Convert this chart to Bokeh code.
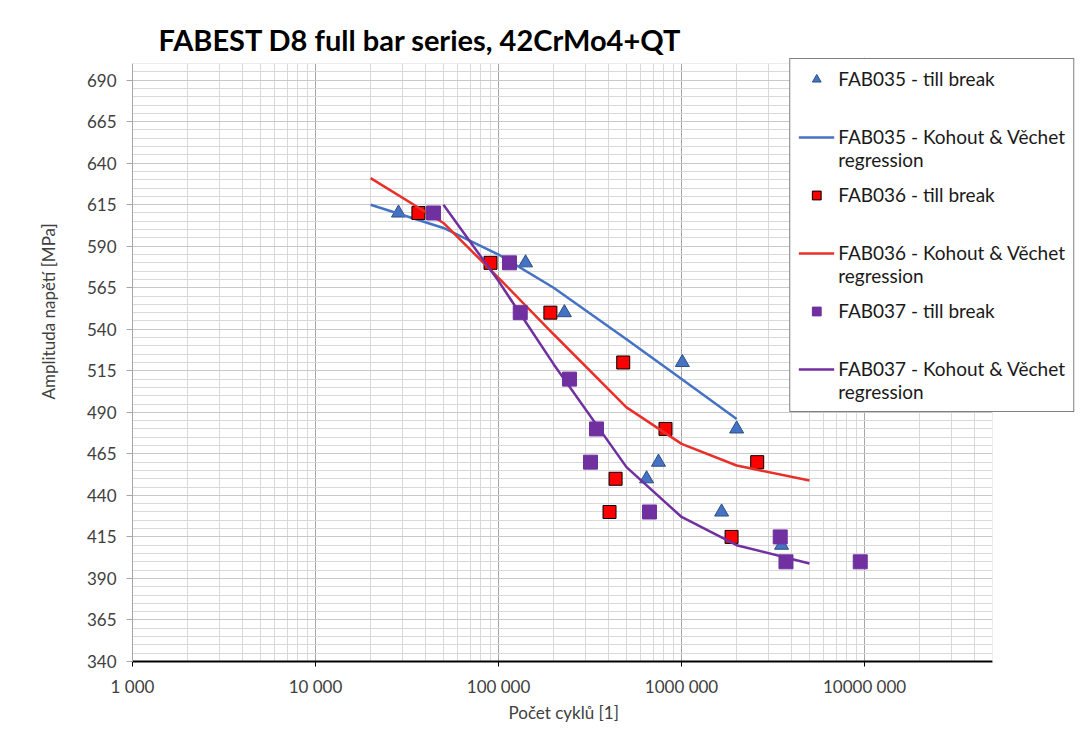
import math
from bokeh.plotting import figure
from bokeh.models import FixedTicker, Legend, LegendItem, Range1d, BoxAnnotation, Title
from bokeh.embed import file_html
from bokeh.resources import INLINE

# ---- data ----
fab035_N = [28400, 140500, 229000, 1010000, 2000000, 748000, 644000, 1655000, 3520000]
fab035_S = [610, 580, 550, 520, 480, 460, 450, 430, 410]

fab036_N = [36500, 90400, 192000, 480000, 817000, 2590000, 436000, 404000, 1876000]
fab036_S = [610, 580, 550, 520, 480, 460, 450, 430, 415]

fab037_N = [44150, 114800, 131400, 244300, 343000, 318000, 668000, 3460000, 3720000, 9470000]
fab037_S = [610, 580, 550, 510, 480, 460, 430, 415, 400, 400]

reg035_N = [2e4, 5e4, 1e5, 2e5, 5e5, 1e6, 2e6]
reg035_S = [615, 601, 585, 565, 534, 510, 486]

reg036_N = [2e4, 5e4, 1e5, 2e5, 5e5, 1e6, 2e6, 5e6]
reg036_S = [631, 604, 571, 537, 493, 471, 458, 449]

reg037_N = [5e4, 1e5, 2e5, 5e5, 1e6, 2e6, 5e6]
reg037_S = [615, 569, 519, 457, 427, 410, 399]

x_tick_values = [1000, 10000, 100000, 1000000, 10000000]
x_tick_labels = ["1 000", "10 000", "100 000", "1000 000", "10000 000"]
y_tick_values = list(range(340, 691, 25))

X_MIN, X_MAX = 1000, 5e7
Y_MIN, Y_MAX = 340, 700

# regression entries get an invisible first line so that the legend line
# sits level with "FAB03x - Kohout & Věchet", as in the reference
labels = [
    "FAB035 - till break",
    "\u00a0\nFAB035 - Kohout & Věchet\nregression",
    "FAB036 - till break",
    "\u00a0\nFAB036 - Kohout & Věchet\nregression",
    "FAB037 - till break",
    "\u00a0\nFAB037 - Kohout & Věchet\nregression",
]

FONT = "Lato"
BLUE = "#4472C4"
RED = "#FF0000"
RED_LINE = "#E8302A"
PURPLE = "#7030A0"
TXT = "#404040"

# layout (pixels)
W, H = 1075, 722
LEFT, TOP, BOTTOM = 132, 57, 60
AXIS_PX = 860            # width of the gridded area (X_MIN .. X_MAX)
TOP_GAP = 6              # blank strip between frame top and Y_MAX
frame_w = W - LEFT
frame_h = H - TOP - BOTTOM
dec_px = AXIS_PX / math.log10(X_MAX / X_MIN)
x_end = X_MIN * 10 ** (frame_w / dec_px)
y_end = Y_MAX + TOP_GAP * (Y_MAX - Y_MIN) / (frame_h - TOP_GAP)

p = figure(width=W, height=H, x_axis_type="log",
           x_range=Range1d(X_MIN, x_end), y_range=Range1d(Y_MIN, y_end),
           output_backend="svg", toolbar_location=None,
           title="FABEST D8 full bar series, 42CrMo4+QT")
p.min_border_left = LEFT
p.min_border_right = 0
p.min_border_top = TOP
p.min_border_bottom = BOTTOM
p.outline_line_color = None
p.background_fill_color = "white"
p.border_fill_color = "white"

p.title.text_font = FONT
p.title.text_font_size = "29px"
p.title.text_font_style = "bold"
p.title.text_color = "#000000"
p.title.align = "left"
p.title.offset = 26
p.title.standoff = 2

# minor ticks
x_minor = []
for dec in [1e3, 1e4, 1e5, 1e6, 1e7]:
    for m in range(2, 10):
        v = dec * m
        if v <= X_MAX:
            x_minor.append(v)
y_minor = [v for v in range(Y_MIN, Y_MAX + 1, 5) if (v - Y_MIN) % 25 != 0 or v == Y_MAX]

p.xaxis.ticker = FixedTicker(ticks=x_tick_values, minor_ticks=x_minor)
p.yaxis.ticker = FixedTicker(ticks=y_tick_values, minor_ticks=y_minor)
p.xaxis.major_label_overrides = {v: l for v, l in zip(x_tick_values, x_tick_labels)}
p.xaxis.bounds = (X_MIN, X_MAX)
p.yaxis.bounds = (Y_MIN, Y_MAX)

for ax in [p.xaxis[0], p.yaxis[0]]:
    ax.major_label_text_font = FONT
    ax.major_label_text_font_size = "17px"
    ax.major_label_text_color = TXT
    ax.minor_tick_line_color = None
    ax.major_tick_in = 0
    ax.major_tick_out = 6

p.xaxis.axis_line_color = "black"
p.xaxis.axis_line_width = 2
p.xaxis.major_tick_line_color = "black"
p.xaxis.major_tick_out = 5
p.xaxis.major_label_standoff = 9
p.yaxis.axis_line_color = "#A6A6A6"
p.yaxis.major_tick_line_color = "#A6A6A6"
p.yaxis.major_label_standoff = 10

# axis titles (placed like the reference: centred on the gridded area)
p.add_layout(Title(text="Počet cyklů [1]", align="left", offset=376,
                   text_font=FONT, text_font_size="17px",
                   text_font_style="normal", text_color=TXT, standoff=0), "below")
p.add_layout(Title(text="Amplituda napětí [MPa]", align="left", offset=262,
                   text_font=FONT, text_font_size="17px",
                   text_font_style="normal", text_color=TXT, standoff=49), "left")

p.xgrid.grid_line_color = "#A6A6A6"
p.xgrid.minor_grid_line_color = "#D9D9D9"
p.ygrid.grid_line_color = "#C8C8C8"
p.ygrid.minor_grid_line_color = "#D9D9D9"

# blank areas outside the gridded region
p.add_layout(BoxAnnotation(left=X_MAX, fill_color="white", fill_alpha=1,
                           line_color=None))
p.add_layout(BoxAnnotation(bottom=Y_MAX, fill_color="white", fill_alpha=1,
                           line_color=None))

# ---- series ----
r1 = p.scatter(fab035_N, fab035_S, marker="triangle", size=14,
               fill_color=BLUE, line_color="#2F4F7F", line_width=1)
r2 = p.line(reg035_N, reg035_S, line_color=BLUE, line_width=2.5)
r3 = p.scatter(fab036_N, fab036_S, marker="square", size=13,
               fill_color=RED, line_color="black", line_width=1)
r4 = p.line(reg036_N, reg036_S, line_color=RED_LINE, line_width=2.5)
r5 = p.scatter(fab037_N, fab037_S, marker="square", size=14,
               fill_color=PURPLE, line_color=PURPLE, line_width=1)
r6 = p.line(reg037_N, reg037_S, line_color=PURPLE, line_width=2.5)

legend = Legend(items=[LegendItem(label=l, renderers=[r]) for l, r in
                       zip(labels, [r1, r2, r3, r4, r5, r6])],
                location="top_right")
legend.border_line_color = "black"
legend.border_line_width = 1.5
legend.background_fill_color = "white"
legend.background_fill_alpha = 1
legend.label_text_font = FONT
legend.label_text_font_size = "19px"
legend.label_text_color = "#1A1A1A"
legend.glyph_width = 36
legend.glyph_height = 22
legend.label_height = 20
legend.label_standoff = 4
legend.padding = 8
legend.spacing = 12
legend.margin = 1
p.add_layout(legend)

open("out.html", "w").write(file_html(p, INLINE))
